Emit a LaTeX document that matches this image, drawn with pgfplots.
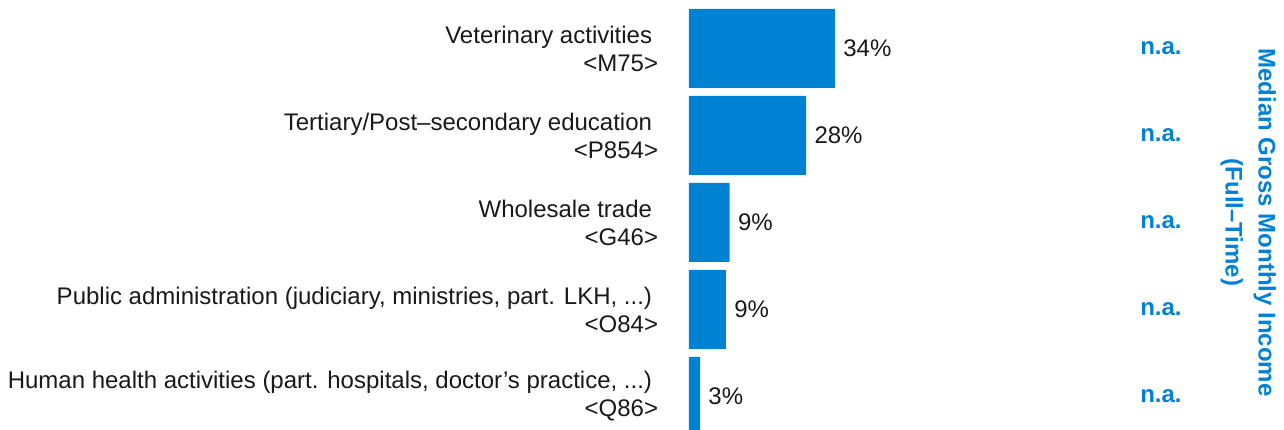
\documentclass[border=0pt]{standalone}
\usepackage{pgfplots}
\pgfplotsset{compat=1.18}
\usepackage{pgfplotstable}
\usepackage{fontspec}
\setmainfont{Liberation Sans}
\definecolor{barblue}{RGB}{0,130,212}
\newcommand{\ddd}{...}
\pgfplotstableread{
pos value label
0 34.4 34
1 27.6 28
2 9.6 9
3 8.7 9
4 2.6 3
}\datatable
\begin{document}
\begin{tikzpicture}
\begin{axis}[
  scale only axis,
  width=297.5pt, height=215pt,
  xmin=0, xmax=140.2,
  ymin=-0.5575, ymax=4.385,
  y dir=reverse,
  axis line style={draw=none},
  tick style={draw=none},
  xtick=\empty,
  ytick={0,1,2,3,4},
  yticklabels={
    {Veterinary activities\hspace*{3pt}\\<M75>},
    {Tertiary/Post\textendash secondary education\hspace*{3pt}\\<P854>},
    {Wholesale trade\hspace*{3pt}\\<G46>},
    {Public administration (judiciary, ministries, part. LKH, \ddd)\hspace*{3pt}\\<O84>},
    {Human health activities (part. hospitals, doctor’s practice, \ddd)\hspace*{3pt}\\<Q86>}},
  yticklabel style={align=right, inner sep=0pt, xshift=-11pt, font=\fontsize{12}{14}\selectfont, text=black!90},
  xbar, bar width=39.5pt, bar shift=0pt,
  nodes near coords={\pgfplotspointmeta\%},
  point meta=explicit symbolic,
  every node near coord/.append style={anchor=west, inner sep=0pt, xshift=4pt, font=\fontsize{12}{14}\selectfont, text=black!90},
  clip=true,
]
\addplot[fill=barblue, draw=none] table[x=value, y=pos, meta=label] {\datatable};
\pgfplotsinvokeforeach{0,1,2,3,4}{
  \node[font=\bfseries\fontsize{12}{14}\selectfont, text=barblue] at (axis cs:111.2,#1) {n.a.};
}
\node[rotate=-90, align=center, inner sep=0pt, font=\bfseries\fontsize{12}{16.5}\selectfont, text=barblue] at (axis cs:131.8,2) {Median Gross Monthly Income\\(Full\textendash Time)};
\end{axis}
\pgfresetboundingbox
\path ([xshift=-344.5pt]current axis.south west) rectangle (current axis.north east);
\end{tikzpicture}
\end{document}
